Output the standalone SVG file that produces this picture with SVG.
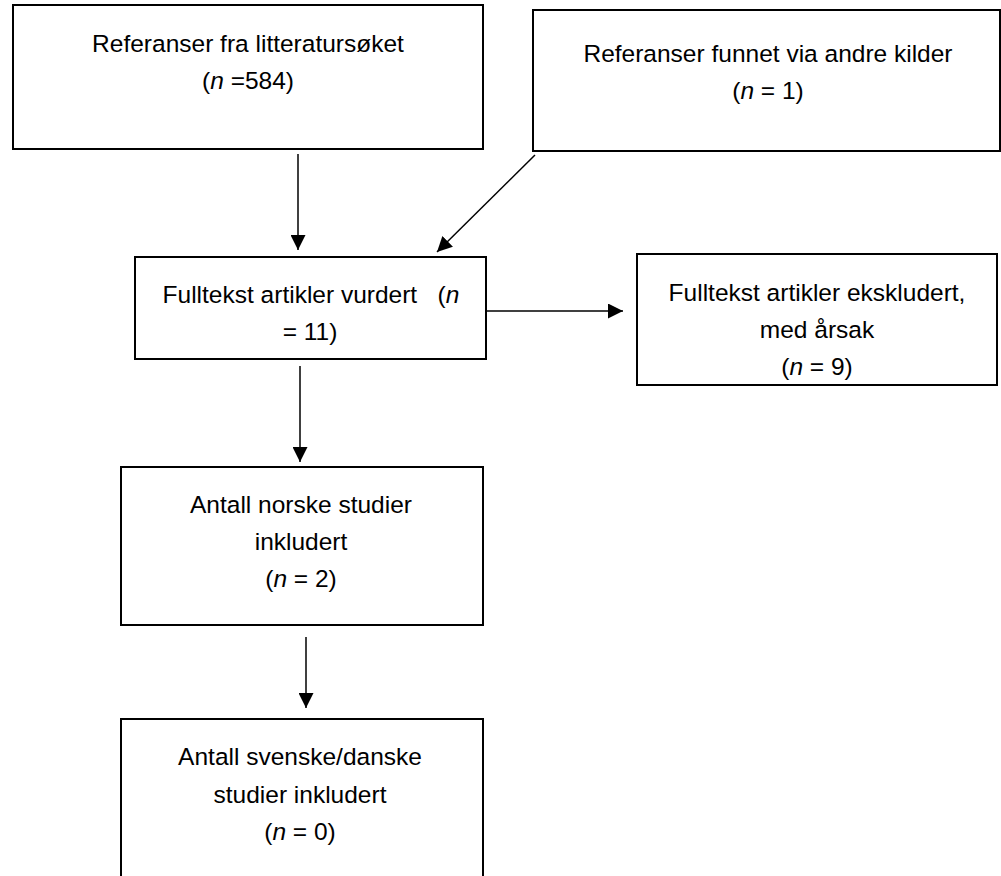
<svg xmlns="http://www.w3.org/2000/svg" width="1001" height="876" viewBox="0 0 1001 876">
<defs>
<marker id="ah" viewBox="0 0 10 10" refX="10" refY="5" markerWidth="15" markerHeight="15" markerUnits="userSpaceOnUse" orient="auto">
<path d="M0,0 L10,5 L0,10 Z" fill="#000"/>
</marker>
<style>
.box{fill:#fff;stroke:#000;stroke-width:2}
.t{font-family:"Liberation Sans",Arial,sans-serif;font-size:24.5px;fill:#000;text-anchor:middle}
.i{font-style:italic}
.c{stroke:#000;stroke-width:1.5;fill:none;marker-end:url(#ah)}
</style>
</defs>
<rect width="1001" height="876" fill="#fff"/>
<g id="n1">
<rect class="box" x="13" y="5" width="470" height="144"/>
<text class="t" x="248" y="52">Referanser fra litteratursøket</text>
<text class="t" x="248" y="89">(<tspan class="i">n</tspan> =584)</text>
</g>
<g id="n2">
<rect class="box" x="533" y="10" width="467" height="141"/>
<text class="t" x="768" y="62">Referanser funnet via andre kilder</text>
<text class="t" x="768" y="99">(<tspan class="i">n</tspan> = 1)</text>
</g>
<g id="n3">
<rect class="box" x="135" y="257" width="351" height="102"/>
<text class="t" x="311" y="303" xml:space="preserve">Fulltekst artikler vurdert   (<tspan class="i">n</tspan></text>
<text class="t" x="310" y="340">= 11)</text>
</g>
<g id="n4">
<rect class="box" x="637" y="254" width="360" height="131"/>
<text class="t" x="817" y="301">Fulltekst artikler ekskludert,</text>
<text class="t" x="817" y="338">med årsak</text>
<text class="t" x="817" y="375">(<tspan class="i">n</tspan> = 9)</text>
</g>
<g id="n5">
<rect class="box" x="121" y="467" width="362" height="158"/>
<text class="t" x="301" y="513">Antall norske studier</text>
<text class="t" x="301" y="550">inkludert</text>
<text class="t" x="301" y="587">(<tspan class="i">n</tspan> = 2)</text>
</g>
<g id="n6">
<rect class="box" x="121" y="719" width="362" height="170"/>
<text class="t" x="300" y="765">Antall svenske/danske</text>
<text class="t" x="300" y="803">studier inkludert</text>
<text class="t" x="300" y="840">(<tspan class="i">n</tspan> = 0)</text>
</g>
<g id="connectors">
<line class="c" x1="298" y1="154" x2="298" y2="250"/>
<line class="c" x1="535" y1="155" x2="437" y2="252"/>
<line class="c" x1="486" y1="311" x2="623" y2="311"/>
<line class="c" x1="300" y1="366" x2="300" y2="462"/>
<line class="c" x1="306" y1="637" x2="306" y2="708"/>
</g>
</svg>
